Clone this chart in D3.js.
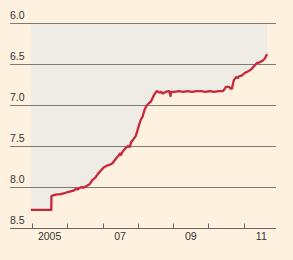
<!DOCTYPE html>
<html><head><meta charset="utf-8">
<script src="https://cdn.jsdelivr.net/npm/d3@7"></script>
<style>
html,body{margin:0;padding:0;background:#fff1e0;}
svg{display:block;}
text{font-family:"Liberation Sans",Arial,sans-serif;fill:#333;}
</style></head>
<body><svg id="c" width="293" height="260"></svg>
<script>
const dates = ["2004-12-20","2005-07-20","2005-07-21","2005-08-15","2005-09-15","2005-10-15","2005-11-15","2005-12-15",
"2006-01-15","2006-02-15","2006-03-15","2006-04-01","2006-04-15","2006-05-15","2006-06-01","2006-06-15","2006-07-15",
"2006-08-15","2006-08-25","2006-09-15","2006-10-15","2006-11-15","2006-12-15","2007-01-15","2007-02-15","2007-03-15",
"2007-04-15","2007-05-15","2007-06-15","2007-07-01","2007-07-10","2007-08-01","2007-09-01","2007-09-20","2007-10-10",
"2007-10-25","2007-11-15","2007-12-10","2007-12-31","2008-01-15","2008-02-01","2008-02-20","2008-03-10","2008-03-31",
"2008-04-15","2008-05-15","2008-06-15","2008-07-15","2008-08-01","2008-08-15","2008-09-01","2008-09-15","2008-10-15",
"2008-11-20","2008-12-05","2008-12-12","2009-01-15","2009-03-01","2009-04-15","2009-06-01","2009-07-15","2009-09-01",
"2009-10-15","2009-12-01","2010-01-15","2010-03-01","2010-04-15","2010-06-01","2010-06-20","2010-07-01","2010-08-01",
"2010-08-20","2010-09-01","2010-09-20","2010-10-15","2010-11-01","2010-11-15","2010-12-15","2011-01-10","2011-02-15",
"2011-03-15","2011-04-15","2011-05-15","2011-06-15","2011-07-15","2011-08-10","2011-08-20","2011-08-31"];
const rates = [8.28,8.28,8.11,8.10,8.09,8.09,8.08,8.07,
8.06,8.05,8.04,8.02,8.03,8.01,8.00,8.01,7.99,
7.97,7.96,7.92,7.89,7.84,7.80,7.76,7.74,7.73,
7.71,7.66,7.62,7.59,7.61,7.56,7.52,7.50,7.51,
7.45,7.42,7.38,7.30,7.24,7.18,7.14,7.06,7.01,
6.99,6.96,6.88,6.83,6.84,6.85,6.84,6.86,6.84,
6.83,6.89,6.84,6.84,6.83,6.84,6.83,6.84,6.83,
6.83,6.84,6.83,6.84,6.83,6.83,6.80,6.78,6.78,
6.80,6.80,6.70,6.66,6.67,6.65,6.64,6.61,6.59,
6.57,6.53,6.49,6.48,6.46,6.43,6.40,6.38];
const yTicks = [6.0,6.5,7.0,7.5,8.0,8.5];
const yearTicks = ["2005","2006","2007","2008","2009","2010","2011"];
const yearLabels = [{year:"2005",label:"2005"},{year:"2007",label:"07"},{year:"2009",label:"09"},{year:"2011",label:"11"}];

const parse = d3.timeParse("%Y-%m-%d");
const data = dates.map((d,i)=>({date:parse(d), v:rates[i]}));
const svg = d3.select("#c");
const x = d3.scaleTime().domain([new Date(2005,0,1), new Date(2012,0,1)]).range([32, 279]);
const y = d3.scaleLinear().domain([6.0, 8.5]).range([23, 228]);

// shaded area from top of plot to the line
svg.append("path").datum(data)
  .attr("fill","#eeece4")
  .attr("d", d3.area().x(d=>x(d.date)).y0(y(6.0)).y1(d=>y(d.v)));

// gridlines
svg.selectAll("line.g").data(yTicks).join("line")
  .attr("x1",10).attr("x2",276)
  .attr("y1",d=>Math.round(y(d))+0.5).attr("y2",d=>Math.round(y(d))+0.5)
  .attr("stroke",d=>d===8.5?"#666":"#7d7a76").attr("stroke-width",1);

svg.selectAll("text.y").data(yTicks).join("text")
  .attr("x",10).attr("y",d=>Math.round(y(d))-4)
  .attr("font-size",10.5).text(d=>d.toFixed(1));

// x ticks
const ty = Math.round(y(8.5))+0.5;
svg.selectAll("line.t").data(yearTicks).join("line")
  .attr("x1",d=>Math.round(x(new Date(+d,0,1)))+0.5).attr("x2",d=>Math.round(x(new Date(+d,0,1)))+0.5)
  .attr("y1",ty-5).attr("y2",ty).attr("stroke","#666");

svg.selectAll("text.x").data(yearLabels).join("text")
  .attr("x",d=>x(new Date(+d.year,6,2))).attr("y",240)
  .attr("text-anchor","middle").attr("font-size",10.5).text(d=>d.label);

// line
svg.append("path").datum(data)
  .attr("fill","none").attr("stroke","#c8283a").attr("stroke-width",2.3)
  .attr("stroke-linejoin","round")
  .attr("d", d3.line().x(d=>x(d.date)).y(d=>y(d.v)));
</script></body></html>
